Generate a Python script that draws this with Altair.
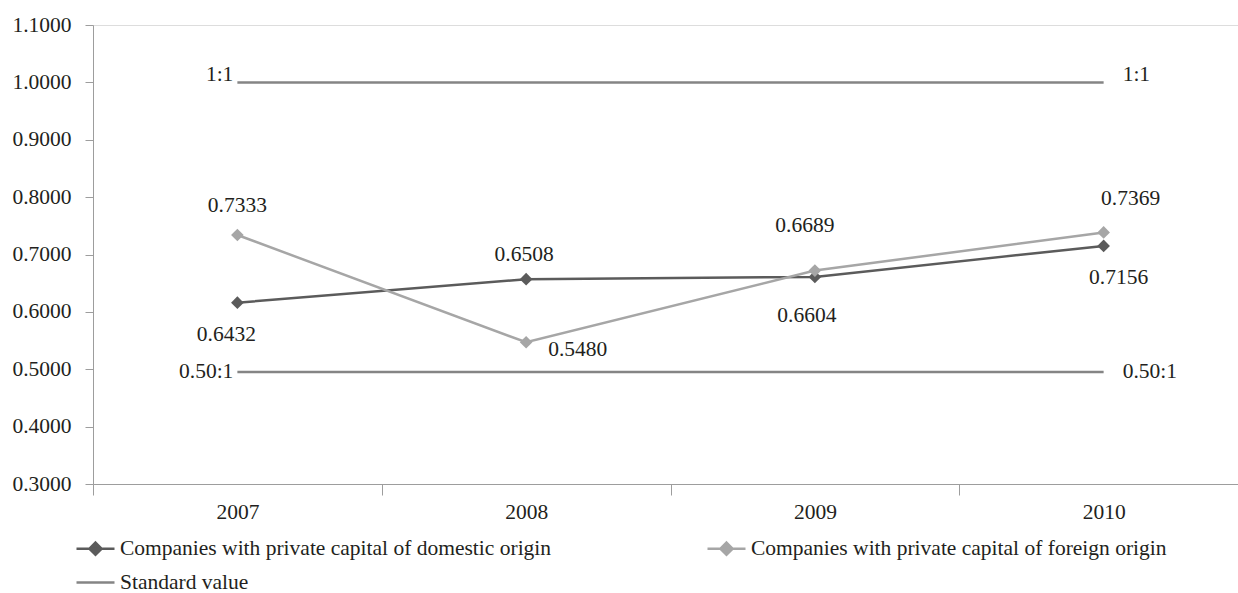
import altair as alt
import pandas as pd

# ---- data ----
years = ["2007", "2008", "2009", "2010"]
domestic = [0.616, 0.657, 0.661, 0.715]
foreign = [0.734, 0.547, 0.672, 0.7385]
domestic_labels = ["0.6432", "0.6508", "0.6604", "0.7156"]
foreign_labels = ["0.7333", "0.5480", "0.6689", "0.7369"]
standard_levels = [1.0, 0.495]
standard_labels = ["1:1", "0.50:1"]
y_ticks = [0.3, 0.4, 0.5, 0.6, 0.7, 0.8, 0.9, 1.0, 1.1]
series_names = [
    "Companies with private capital of domestic origin",
    "Companies with private capital of foreign origin",
    "Standard value",
]

# ---- styles ----
colors = ["#5b5b5b", "#a6a6a6", "#858585"]
TEXT = "#231f20"
FONT = "Liberation Serif"
FS = 21.5
AXIS_C = "#9d9d9d"
path_dl = "M-1,0L1,0M0,-0.32L0.32,0L0,0.32L-0.32,0Z"
path_l = "M-1,0L1,0"

rows = []
for i, y in enumerate(years):
    rows.append(dict(series=series_names[0], group="dom", year=y, value=domestic[i],
                     label=domestic_labels[i], key=f"dom{i}"))
    rows.append(dict(series=series_names[1], group="for", year=y, value=foreign[i],
                     label=foreign_labels[i], key=f"for{i}"))
for j, lvl in enumerate(standard_levels):
    for i, y in enumerate(years):
        rows.append(dict(series=series_names[2], group=f"std{j}", year=y, value=lvl,
                         label=standard_labels[j], key=f"std{j}_{i}"))
df = pd.DataFrame(rows)

# label placement (align, dx, dy)
offsets = {
    "for0": ("center", 0, -29),
    "dom0": ("center", -11, 32),
    "dom1": ("center", -2, -24),
    "for1": ("left", 22, 8),
    "for2": ("center", -10, -45),
    "dom2": ("center", -8, 39),
    "for3": ("center", 27, -33),
    "dom3": ("center", 15, 32),
    "std0_0": ("right", -4, -7),
    "std0_3": ("left", 19, -7),
    "std1_0": ("right", -4, 0),
    "std1_3": ("left", 19, 0),
}

x_scale = alt.Scale(type="band", domain=years, range=[0, 1155], paddingInner=0, paddingOuter=0)
x_axis = alt.Axis(title=None, labelAngle=0, tickBand="extent", tickSize=11, labelPadding=6,
                  domainColor=AXIS_C, tickColor=AXIS_C, labelFont=FONT, labelFontSize=FS,
                  labelColor=TEXT, grid=False)
y_scale = alt.Scale(domain=[0.3, 1.1], nice=False, zero=False)
y_axis = alt.Axis(title=None, values=y_ticks, format=".4f", tickSize=8, labelPadding=14,
                  domainColor=AXIS_C, tickColor=AXIS_C, labelFont=FONT, labelFontSize=FS,
                  labelColor=TEXT, grid=False)

X = alt.X("year:N", scale=x_scale, bandPosition=0.5, axis=x_axis)
Y = alt.Y("value:Q", scale=y_scale, axis=y_axis)

# legend entries are laid out column by column: domestic, standard | foreign
legend_order = [series_names[0], series_names[2], series_names[1]]
legend_colors = [colors[0], colors[2], colors[1]]
legend_shapes = [path_dl, path_l, path_dl]

legend = alt.Legend(title=None, orient="none", legendX=-18, legendY=503, columns=2,
                    columnPadding=150, rowPadding=2, symbolSize=1444, symbolStrokeWidth=2.5,
                    labelOffset=4, labelFont=FONT, labelFontSize=FS, labelColor=TEXT,
                    labelLimit=1000, padding=0, offset=0)

base = alt.Chart(df)

legend_layer = base.transform_filter("false").mark_point(filled=True, opacity=1).encode(
    x=X, y=Y,
    fill=alt.Fill("series:N", scale=alt.Scale(domain=legend_order, range=legend_colors), legend=legend),
    stroke=alt.Stroke("series:N", scale=alt.Scale(domain=legend_order, range=legend_colors), legend=legend),
    shape=alt.Shape("series:N", scale=alt.Scale(domain=legend_order, range=legend_shapes), legend=legend),
)

color_scale = alt.Scale(domain=series_names, range=colors)

lines = base.mark_line(strokeWidth=2.5).encode(
    x=X, y=Y,
    color=alt.Color("series:N", scale=color_scale, legend=None),
    detail="group:N",
)

points = base.transform_filter("datum.group == 'dom' || datum.group == 'for'").mark_point(
    shape="diamond", filled=True, size=160, opacity=1
).encode(
    x=X, y=Y,
    color=alt.Color("series:N", scale=color_scale, legend=None),
)

texts = []
for key, (al, dx, dy) in offsets.items():
    texts.append(
        base.transform_filter(f"datum.key == '{key}'").mark_text(
            align=al, baseline="middle", dx=dx, dy=dy, font=FONT, fontSize=FS, color=TEXT
        ).encode(x=X, y=Y, text="label:N")
    )

chart = alt.layer(legend_layer, lines, points, *texts).properties(
    width=1145, height=459,
    autosize=alt.AutoSizeParams(type="none"),
    padding={"left": 93, "top": 25, "right": 0, "bottom": 109},
).configure_view(stroke=None).configure(background="white")

chart.save("out.html", embed_options={"renderer": "svg", "actions": False})
